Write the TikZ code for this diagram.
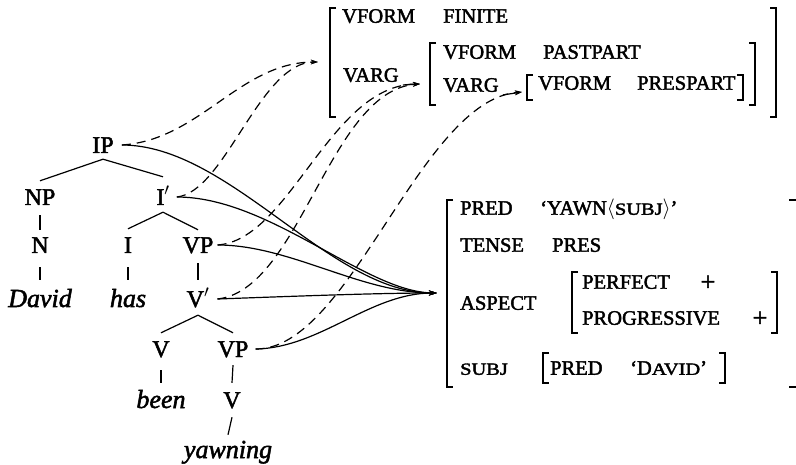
\documentclass[tikz,border=0pt]{standalone}
\usepackage{fontspec}
\setmainfont{Liberation Serif}[FakeBold=2]
\usepackage{graphicx}
\usetikzlibrary{arrows.meta}
\newcommand\smc[1]{\scalebox{1.2}[1]{\fontsize{17}{19}\selectfont #1}}
\newcommand\fsL[3]{\draw[brk] (#1+6,#2) -| (#1,#3) -- (#1+6,#3);}
\newcommand\fsR[3]{\draw[brk] (#1-6,#2) -| (#1,#3) -- (#1-6,#3);}
\tikzset{
  tn/.style={font=\fontsize{24}{28}\selectfont, inner sep=1pt, text height=16pt, text depth=0pt},
  tw/.style={font=\fontsize{26}{30}\selectfont\itshape, inner sep=1pt, text height=17pt, text depth=0pt},
  fs/.style={font=\fontsize{20.5}{24}\selectfont, inner sep=0pt, text height=13.5pt, text depth=0pt, anchor=west},
  plus/.style={font=\fontsize{26}{28}\selectfont, inner sep=0pt},
  tline/.style={line width=1.2pt},
  brk/.style={line width=1.8pt},
  phi/.style={line width=1.2pt, -{Stealth[length=8pt,width=5pt]}},
  proj/.style={line width=1.2pt, dash pattern=on 9pt off 6pt, -{Stealth[length=7pt,width=4.5pt]}},
}
\begin{document}
\begin{tikzpicture}[x=1pt,y=-1pt]
\fill[white] (0,0) rectangle (796,465);
\useasboundingbox (0,0) rectangle (796,465);

% ---------- c-structure ----------
\node[tn] (ip)   at (103,145) {IP};
\node[tn] (np)   at (40,197)  {NP};
\node[tn] (ibar) at (163,197) {I$'$};
\node[tn] (n)    at (40,245)  {N};
\node[tn] (i)    at (128,245) {I};
\node[tn] (vp)   at (198,245) {VP};
\node[tw] (david) at (40,298.5) {David};
\node[tw] (has)  at (128,298.5) {has};
\node[tn] (vbar) at (198,299) {V$'$};
\node[tn] (v1)   at (161,349) {V};
\node[tn] (vp2)  at (233,349) {VP};
\node[tw] (been) at (161,399.5) {been};
\node[tn] (v2)   at (232,400) {V};
\node[tw] (yawning) at (228,449.5) {yawning};

\draw[tline] ([yshift=7pt]np.north) -- ([yshift=-5pt]ip.south) -- ([yshift=11pt]ibar.north);
\draw[tline] ([yshift=7pt]i.north) -- ([yshift=-6pt]ibar.south) -- ([yshift=6pt]vp.north);
\draw[tline] ([yshift=7pt]v1.north) -- ([yshift=-7pt]vbar.south) -- ([yshift=7pt]vp2.north);
\draw[tline] ([yshift=-9pt]np.south) -- ([yshift=6pt]n.north);
\draw[tline] ([yshift=-13pt]n.south) -- ([yshift=9pt]david.north);
\draw[tline] ([yshift=-13pt]i.south) -- ([yshift=9pt]has.north);
\draw[tline] ([yshift=-9pt]vp.south) -- ([yshift=10pt]vbar.north);
\draw[tline] ([yshift=-12pt]v1.south) -- ([yshift=7pt]been.north);
\draw[tline] ([yshift=-7pt]vp2.south) -- ([yshift=8pt]v2.north);
\draw[tline] ([yshift=-8pt]v2.south) -- ([yshift=5pt]yawning.north);

% ---------- upper structure ----------
\fsL{330}{8}{117}
\fsR{776}{8}{117}
\node[fs] (vf1) at (342,16) {VFORM};
\node[fs] (fin) at (443,16) {FINITE};
\node[fs] (va1) at (343,75) {VARG};
\fsL{430}{43}{105}
\fsR{755}{43}{105}
\node[fs] (vf2) at (443,52) {VFORM};
\node[fs] (pas) at (543,52) {PASTPART};
\node[fs] (va2) at (443,85) {VARG};
\fsL{527}{75}{100}
\fsR{743}{75}{100}
\node[fs] (vf3) at (538,83) {VFORM};
\node[fs] (pre) at (637,83) {PRESPART};

\coordinate (tipOut) at (318,62);
\coordinate (tipMid) at (420,84);
\coordinate (tipInn) at (522,92);
\draw[line width=1.2pt, -{Stealth[length=7pt,width=4.5pt]}] ([xshift=4pt]va1.south east) ++(0,-3pt) -- (tipMid);
\draw[line width=1.2pt, -{Stealth[length=7pt,width=4.5pt]}] ([xshift=4pt]va2.south east) ++(0,-3pt) -- (tipInn);

% ---------- lower structure ----------
\fsL{447}{200}{387}
\draw[brk] (789,200) -- (796,200);
\draw[brk] (789,387) -- (796,387);
\node[fs] (pr1) at (460,208) {PRED};
\node[fs] (yawn) at (540,208) {‘YAWN$\langle$\smc{SUBJ}$\rangle$’};
\node[fs] (ten) at (460,245) {TENSE};
\node[fs] (pres) at (552,245) {PRES};
\node[fs] (asp) at (460,303) {ASPECT};
\fsL{572}{272}{333}
\fsR{777}{272}{333}
\node[fs] (perf) at (582,282) {PERFECT};
\node[plus] (pl1) at (708,283) {+};
\node[fs] (prog) at (582,318) {PROGRESSIVE};
\node[plus] (pl2) at (760,319) {+};
\node[fs] (subj) at (460,368) {\smc{SUBJ}};
\fsL{543}{353}{383}
\fsR{725}{353}{383}
\node[fs] (pr2) at (550,368) {PRED};
\node[fs] (dav) at (630,368) {‘D\smc{AVID}’};

\coordinate (tipF) at (437,293);

% ---------- phi mapping (solid) ----------
\draw[phi] ([xshift=7pt]ip.east)   .. controls (230,145) and (330,293) .. (tipF);
\draw[phi] ([xshift=6pt]ibar.east) .. controls (270,197) and (365,292) .. (tipF);
\draw[phi] ([xshift=3pt]vp.east)   .. controls (290,245) and (360,293) .. (tipF);
\draw[phi] ([xshift=7pt]vbar.east) .. controls (300,296) and (380,293) .. (tipF);
\draw[phi] ([xshift=6pt]vp2.east)  .. controls (320,348) and (370,293) .. (tipF);

% ---------- dashed mapping ----------
\draw[proj] ([xshift=7pt]ip.east)   .. controls (200,140) and (240,62) .. (tipOut);
\draw[proj] ([xshift=6pt]ibar.east) .. controls (225,192) and (260,62) .. (tipOut);
\draw[proj] ([xshift=3pt]vp.east)   .. controls (290,240) and (330,85) .. (tipMid);
\draw[proj] ([xshift=7pt]vbar.east) .. controls (300,290) and (330,90) .. (tipMid);
\draw[proj] ([xshift=6pt]vp2.east)  .. controls (350,350) and (420,100) .. (tipInn);
\end{tikzpicture}
\end{document}
